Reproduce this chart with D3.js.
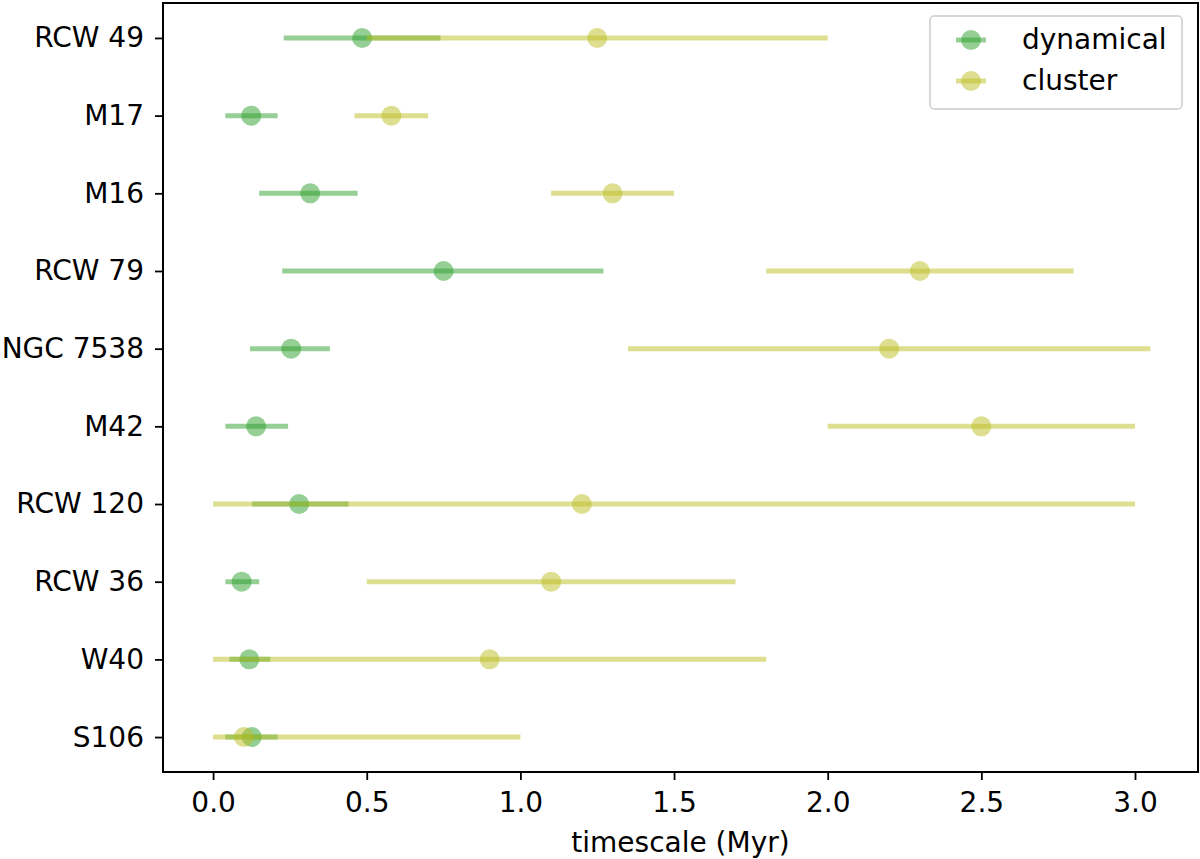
<!DOCTYPE html>
<html>
  <head>
    <meta charset="utf-8">
    <title></title>
    <style>
      body { margin: 0; background: #fff; }
      text { font-family: "DejaVu Sans", sans-serif; }
    </style>
  </head>
  <body>
    <script src="https://cdn.jsdelivr.net/npm/d3@7"></script>
    <script>
      var width = 1200, height = 859,
        margin = {top: 3, right: 2, bottom: 87, left: 163},
        fontSize = 28;

      // regions, top to bottom
      var regions = ['RCW 49', 'M17', 'M16', 'RCW 79', 'NGC 7538', 'M42', 'RCW 120', 'RCW 36', 'W40', 'S106'];
      // dynamical timescale (Myr): value, low, high
      var dynVal = [0.485, 0.124, 0.316, 0.75, 0.254, 0.14, 0.28, 0.093, 0.118, 0.126];
      var dynLow = [0.23, 0.04, 0.15, 0.225, 0.12, 0.04, 0.127, 0.04, 0.053, 0.04];
      var dynHigh = [0.74, 0.21, 0.47, 1.27, 0.38, 0.244, 0.44, 0.15, 0.186, 0.21];
      // cluster age (Myr)
      var cluVal = [1.25, 0.58, 1.3, 2.3, 2.2, 2.5, 1.2, 1.1, 0.9, 0.1];
      var cluLow = [0.5, 0.46, 1.1, 1.8, 1.35, 2.0, 0.0, 0.5, 0.0, 0.0];
      var cluHigh = [2.0, 0.70, 1.5, 2.8, 3.05, 3.0, 3.0, 1.7, 1.8, 1.0];
      var xTicks = [0, 0.5, 1, 1.5, 2, 2.5, 3];

      var series = [
        {name: 'dynamical', color: '#2ca02c', val: dynVal, lo: dynLow, hi: dynHigh},
        {name: 'cluster', color: '#bcbd22', val: cluVal, lo: cluLow, hi: cluHigh}
      ];

      var svg = d3.select('body').append('svg')
        .attr('width', width)
        .attr('height', height);

      var x = d3.scaleLinear()
        .domain([-0.163, 3.205])
        .range([margin.left, width - margin.right]);
      var n = regions.length;
      var y = d3.scaleLinear()
        .domain([-0.45, n - 1 + 0.45])
        .range([height - margin.bottom, margin.top]);
      // region i (from top) sits at position n-1-i
      var yPos = function(i) { return y(n - 1 - i); };

      var g = svg.append('g');

      series.forEach(function(s) {
        var grp = g.append('g');
        grp.selectAll('line').data(regions).enter().append('line')
          .attr('x1', function(d, i) { return x(s.lo[i]); })
          .attr('x2', function(d, i) { return x(s.hi[i]); })
          .attr('y1', function(d, i) { return yPos(i); })
          .attr('y2', function(d, i) { return yPos(i); })
          .attr('stroke', s.color)
          .attr('stroke-opacity', 0.5)
          .attr('stroke-width', 5);
        grp.selectAll('circle').data(regions).enter().append('circle')
          .attr('cx', function(d, i) { return x(s.val[i]); })
          .attr('cy', function(d, i) { return yPos(i); })
          .attr('r', 10)
          .attr('fill', s.color)
          .attr('fill-opacity', 0.5);
      });

      // axes
      var xAxis = d3.axisBottom(x).tickValues(xTicks)
        .tickFormat(d3.format('.1f')).tickSize(8).tickPadding(12);
      var ax = svg.append('g')
        .attr('transform', 'translate(0,' + (height - margin.bottom) + ')')
        .call(xAxis);
      var yAxis = d3.axisLeft(y).tickValues(d3.range(n))
        .tickFormat(function(d) { return regions[n - 1 - d]; })
        .tickSize(8).tickPadding(11);
      var ay = svg.append('g')
        .attr('transform', 'translate(' + margin.left + ',0)')
        .call(yAxis);
      [ax, ay].forEach(function(a) {
        a.select('.domain').remove();
        a.selectAll('line').attr('stroke', '#000').attr('stroke-width', 1.8);
        a.selectAll('text').attr('font-size', fontSize).attr('fill', '#000')
          .style('font-family', '"DejaVu Sans", sans-serif');
      });

      // frame
      svg.append('rect')
        .attr('x', margin.left).attr('y', margin.top)
        .attr('width', width - margin.right - margin.left)
        .attr('height', height - margin.bottom - margin.top)
        .attr('fill', 'none').attr('stroke', '#000').attr('stroke-width', 2);

      svg.append('text')
        .attr('x', (margin.left + width - margin.right) / 2)
        .attr('y', 852)
        .attr('text-anchor', 'middle')
        .attr('font-size', fontSize)
        .text('timescale (Myr)');

      // legend
      var leg = svg.append('g').attr('transform', 'translate(930,16)');
      leg.append('rect')
        .attr('width', 252).attr('height', 93).attr('rx', 4)
        .attr('fill', '#fff').attr('fill-opacity', 0.8)
        .attr('stroke', '#ccc').attr('stroke-width', 1.5);
      series.forEach(function(s, i) {
        var yy = 24 + i * 41;
        leg.append('line')
          .attr('x1', 26).attr('x2', 56).attr('y1', yy).attr('y2', yy)
          .attr('stroke', s.color).attr('stroke-opacity', 0.5).attr('stroke-width', 5);
        leg.append('circle')
          .attr('cx', 41).attr('cy', yy).attr('r', 10)
          .attr('fill', s.color).attr('fill-opacity', 0.5);
        leg.append('text')
          .attr('x', 92).attr('y', yy + 9)
          .attr('font-size', fontSize)
          .text(s.name);
      });
    </script>
  </body>
</html>
